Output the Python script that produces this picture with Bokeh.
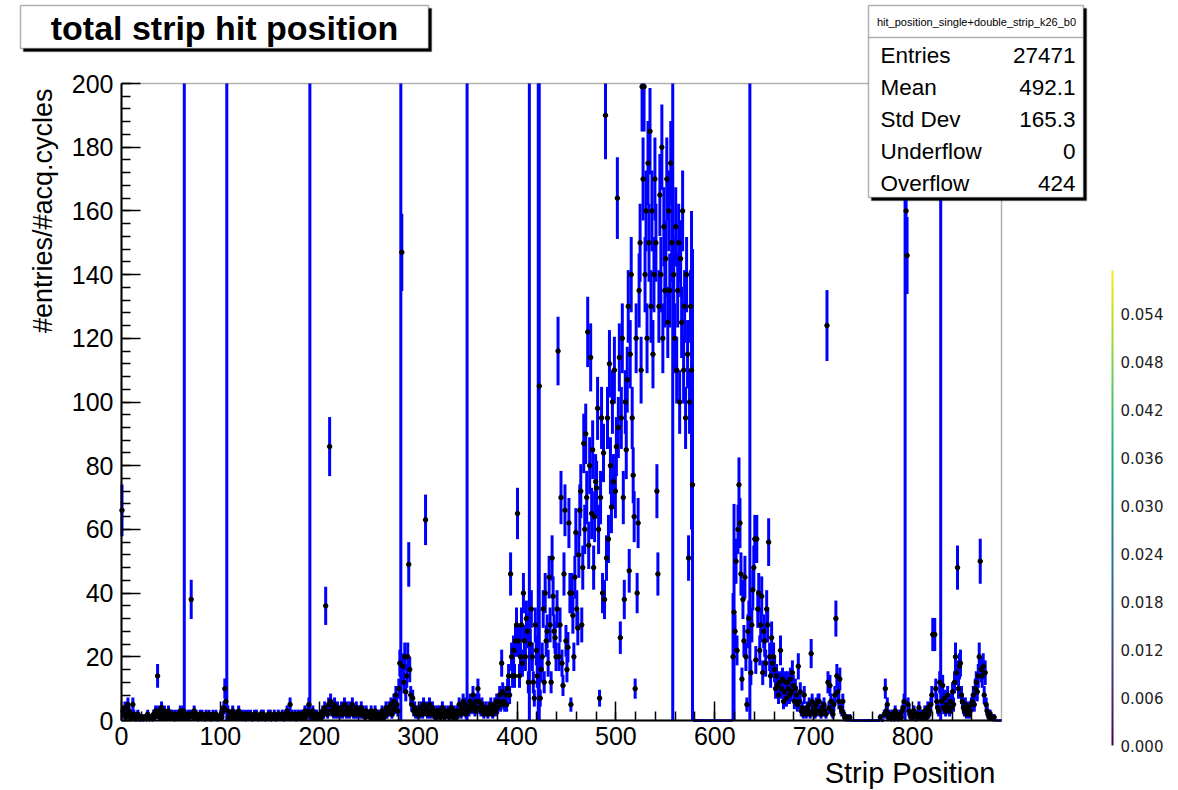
import numpy as np
from bokeh.plotting import figure
from bokeh.models import (Range1d, SingleIntervalTicker, ColumnDataSource, BoxAnnotation, Label,
                          ColorBar, LinearColorMapper, FixedTicker, PrintfTickFormatter)
from bokeh.palettes import Viridis256
from bokeh.embed import file_html
from bokeh.resources import INLINE

# ---------------- data ----------------
strip_values = [
    66, 3, 2, 4, 1, 2, 5, 3, 1, 2,
    1, 5, 2, 1, 0, 1, 2, 1, 0, 1,
    0, 1, 0, 1, 1, 0, 2, 1, 0, 1,
    1, 0, 2, 1, 3, 2, 14, 3, 1, 2,
    4, 1, 2, 3, 1, 2, 1, 3, 1, 2,
    1, 2, 1, 0, 2, 1, 1, 2, 1, 3,
    2, 1, 3, 300, 2, 1, 1, 2, 1, 2,
    38, 2, 1, 3, 1, 2, 1, 0, 1, 2,
    1, 2, 1, 1, 0, 2, 1, 1, 2, 1,
    0, 1, 2, 1, 1, 2, 1, 0, 1, 1,
    2, 1, 3, 4, 10, 6, 300, 3, 1, 2,
    2, 1, 3, 1, 2, 1, 1, 2, 3, 1,
    1, 2, 1, 1, 2, 0, 1, 2, 1, 1,
    2, 1, 0, 1, 2, 1, 2, 1, 0, 1,
    1, 2, 1, 2, 1, 0, 1, 1, 2, 1,
    2, 0, 1, 1, 2, 1, 0, 1, 2, 1,
    1, 1, 2, 1, 0, 2, 1, 3, 1, 2,
    5, 1, 2, 1, 1, 2, 0, 1, 2, 1,
    1, 2, 1, 1, 2, 3, 1, 2, 3, 5,
    300, 2, 1, 3, 1, 2, 1, 2, 1, 1,
    1, 2, 1, 3, 2, 4, 36, 3, 2, 5,
    86, 6, 3, 4, 2, 5, 3, 2, 4, 3,
    2, 3, 4, 2, 3, 5, 3, 2, 4, 3,
    2, 4, 3, 5, 2, 3, 2, 4, 2, 3,
    3, 2, 4, 2, 3, 2, 1, 3, 2, 2,
    2, 1, 3, 2, 1, 2, 3, 1, 2, 1,
    2, 1, 1, 3, 2, 1, 2, 4, 2, 3,
    4, 3, 5, 2, 3, 6, 4, 8, 5, 3,
    10, 18, 300, 147, 17, 12, 20, 9, 14, 20,
    49, 16, 8, 5, 7, 3, 4, 2, 3, 2,
    3, 2, 4, 3, 2, 5, 3, 63, 4, 2,
    3, 5, 2, 3, 4, 2, 3, 1, 2, 3,
    2, 3, 1, 2, 4, 2, 1, 3, 2, 2,
    3, 1, 2, 4, 2, 1, 3, 2, 1, 3,
    2, 5, 3, 2, 4, 6, 3, 5, 2, 300,
    4, 3, 6, 5, 4, 8, 5, 3, 6, 4,
    10, 6, 4, 3, 5, 4, 2, 3, 4, 3,
    2, 4, 3, 5, 3, 2, 4, 5, 3, 6,
    4, 6, 8, 5, 18, 9, 6, 5, 8, 5,
    10, 14, 8, 46, 20, 14, 22, 14, 25, 30,
    65, 25, 14, 20, 30, 18, 40, 25, 20, 32,
    28, 12, 300, 24, 35, 20, 12, 7, 30, 22,
    14, 300, 105, 7, 16, 20, 35, 12, 40, 25,
    28, 18, 45, 30, 12, 51, 39, 28, 26, 20,
    35, 116, 20, 30, 70, 18, 11, 46, 66, 25,
    16, 23, 62, 40, 5, 40, 33, 20, 45, 59,
    35, 29, 52, 66, 72, 30, 48, 87, 60, 90,
    70, 122, 55, 80, 114, 65, 85, 48, 64, 75,
    73, 98, 60, 7, 70, 95, 40, 84, 38, 190,
    51, 95, 57, 112, 80, 67, 100, 75, 110, 72,
    86, 164, 92, 114, 26, 95, 120, 70, 38, 100,
    85, 107, 130, 47, 115, 140, 95, 77, 64, 10,
    120, 40, 62, 135, 150, 110, 199, 170, 199, 140,
    160, 120, 175, 150, 185, 130, 160, 115, 140, 170,
    150, 72, 46, 130, 165, 140, 180, 120, 155, 135,
    145, 170, 125, 160, 135, 175, 150, 300, 140, 120,
    155, 110, 135, 150, 100, 145, 125, 160, 110, 130,
    95, 140, 115, 51, 100, 130, 110, 74, 0, 0,
    0, 0, 0, 0, 0, 0, 0, 0, 0, 0,
    0, 0, 0, 0, 0, 0, 0, 0, 0, 0,
    0, 0, 0, 0, 0, 0, 0, 0, 0, 0,
    0, 0, 0, 0, 0, 0, 0, 0, 20, 34,
    28, 50, 22, 60, 74, 62, 46, 13, 38, 25,
    45, 20, 5, 28, 32, 300, 15, 30, 41, 48,
    57, 19, 57, 35, 40, 22, 30, 39, 15, 28,
    25, 18, 35, 30, 56, 20, 14, 26, 18, 20,
    16, 10, 14, 11, 8, 12, 22, 10, 13, 6,
    9, 12, 7, 12, 10, 8, 13, 9, 15, 11,
    6, 10, 8, 5, 17, 6, 9, 3, 4, 2,
    8, 3, 2, 4, 3, 5, 2, 21, 6, 3,
    4, 2, 5, 3, 6, 6, 3, 2, 4, 3,
    5, 3, 2, 124, 12, 4, 11, 6, 3, 2,
    5, 8, 32, 14, 9, 6, 13, 4, 3, 6,
    2, 1, 0, 1, 0, 0, 1, 0, 0, 0,
    0, 0, 0, 0, 0, 0, 0, 0, 0, 0,
    0, 0, 0, 0, 0, 0, 0, 0, 0, 0,
    0, 0, 0, 0, 0, 0, 0, 1, 0, 0,
    0, 2, 10, 3, 5, 1, 2, 1, 0, 2,
    1, 0, 3, 1, 2, 0, 1, 2, 1, 3,
    4, 6, 300, 160, 146, 5, 3, 2, 1, 2,
    1, 3, 2, 0, 1, 2, 4, 1, 2, 1,
    2, 1, 3, 2, 1, 4, 2, 3, 5, 8,
    27, 27, 27, 10, 6, 4, 3, 12, 300, 6,
    11, 4, 7, 3, 5, 8, 4, 3, 6, 4,
    9, 5, 12, 20, 15, 48, 10, 17, 18, 8,
    6, 4, 3, 5, 2, 3, 4, 2, 3, 5,
    6, 8, 5, 10, 12, 9, 14, 20, 50, 16,
    14, 17, 8, 15, 5, 3, 2, 1, 2, 1,
    1, 0, 1, 0, 0, 0, 0, 0, 0, 0,
]

# bins whose error bar is much larger than sqrt(content) (few raw hits)
wide_err_strips = [63, 106, 190, 282, 349, 412, 421, 422, 557, 576, 577, 618, 619, 635, 792, 828]
wide_err_values = [300, 300, 300, 300, 300, 300, 300, 105, 300, 50, 74, 20, 34, 300, 300, 300]

stats_names = ["Entries", "Mean", "Std Dev", "Underflow", "Overflow"]
stats_values = ["27471", "492.1", "165.3", "0", "424"]
hist_name = "hit_position_single+double_strip_k26_b0"
title_text = "total strip hit position"
x_title = "Strip Position"
y_title = "#entries/#acq.cycles"
x_min, x_max = 0, 890
y_min, y_max = 0, 200
cbar_ticks = [0.000, 0.006, 0.012, 0.018, 0.024, 0.030, 0.036, 0.042, 0.048, 0.054]
cbar_high = 0.0594

# ---------------- layout (page pixels) ----------------
W, H = 1178, 790
FL, FR, FT, FB = 121, 1001, 83, 720      # plotting frame of the histogram

def sx(px):
    return px

def sy(py):
    return H - py

# data ranges stretched so that the drawing area covers the whole canvas
xs = (x_max - x_min) / (FR - FL)
ys = (y_max - y_min) / (FB - FT)
x_range = Range1d(x_min - FL * xs, x_max + (W - FR) * xs)
y_range = Range1d(y_min - (H - FB) * ys, y_max + FT * ys)

# ---------------- derived ----------------
vals = np.array(strip_values, dtype=float)
errs = np.sqrt(vals)
for s, e in zip(wide_err_strips, wide_err_values):
    errs[s] = e
centers = np.arange(len(vals)) + 0.5
lo = np.clip(vals - errs, y_min, y_max)
hi = np.clip(vals + errs, y_min, y_max)
src = ColumnDataSource(dict(x=centers, lo=lo, hi=hi))
inr = vals <= y_max
hsrc = ColumnDataSource(dict(x0=centers[inr] - 0.5, x1=centers[inr] + 0.5, y=vals[inr]))
mk = (vals > 0) & inr
msrc = ColumnDataSource(dict(x=centers[mk], y=vals[mk]))

FONT = "Liberation Sans"
BLUE = "#0000ff"

p = figure(width=W, height=H, x_range=x_range, y_range=y_range,
           output_backend="svg", toolbar_location=None,
           min_border_left=0, min_border_right=0, min_border_top=0, min_border_bottom=0)
p.xgrid.visible = False
p.ygrid.visible = False
p.outline_line_color = None
p.background_fill_color = "white"
p.border_fill_color = "white"

p.segment(x0="x", x1="x", y0="lo", y1="hi", source=src, line_color=BLUE, line_width=3)
p.segment(x0="x0", x1="x1", y0="y", y1="y", source=hsrc, line_color=BLUE, line_width=3)
p.scatter(x="x", y="y", source=msrc, size=4.5, color="black")

# frame box
p.add_layout(BoxAnnotation(left=x_min, right=x_max, bottom=y_min, top=y_max,
                           fill_alpha=0.0, line_color="black", line_width=1.5))

p.xaxis.ticker = SingleIntervalTicker(interval=100, num_minor_ticks=5)
p.yaxis.ticker = SingleIntervalTicker(interval=20, num_minor_ticks=5)
p.xaxis.fixed_location = y_min
p.yaxis.fixed_location = x_min
p.xaxis.bounds = (x_min, x_max)
p.yaxis.bounds = (y_min, y_max)
for ax in (p.xaxis[0], p.yaxis[0]):
    ax.major_tick_in = 19
    ax.major_tick_out = 0
    ax.minor_tick_in = 9
    ax.minor_tick_out = 0
    ax.major_tick_line_width = 1.5
    ax.minor_tick_line_width = 1.5
    ax.axis_line_width = 2
    ax.major_label_text_font = FONT
    ax.major_label_text_font_size = "25px"
    ax.major_label_text_color = "black"
p.xaxis.major_label_standoff = 6
p.yaxis.major_label_standoff = 8

# axis titles
p.add_layout(Label(x=sx(995), y=sy(772), x_units="screen", y_units="screen", text=x_title,
                   text_font=FONT, text_font_size="29px", text_align="right",
                   text_baseline="middle", text_color="black"))
p.add_layout(Label(x=sx(42), y=sy(88), x_units="screen", y_units="screen", text=y_title,
                   angle=np.pi / 2, text_font=FONT, text_font_size="27px", text_align="right",
                   text_baseline="middle", text_color="black"))

def box(l, t, r, b, fill, lw=1.5, line="black"):
    return BoxAnnotation(left=sx(l), right=sx(r), top=sy(t), bottom=sy(b),
                         left_units="screen", right_units="screen",
                         top_units="screen", bottom_units="screen",
                         fill_color=fill, fill_alpha=1.0, line_color=line, line_width=lw)

# title box with shadow
p.add_layout(box(23, 8, 431, 51, "black"))
p.add_layout(box(20, 5, 428, 48, "white"))
p.add_layout(Label(x=sx(224), y=sy(27), x_units="screen", y_units="screen", text=title_text,
                   text_font=FONT, text_font_size="34px", text_font_style="bold",
                   text_align="center", text_baseline="middle", text_color="black"))

# stats box with shadow
p.add_layout(box(871, 8, 1086, 200, "black"))
p.add_layout(box(868, 5, 1083, 197, "white"))
p.add_layout(box(868, 37, 1083, 37, "white"))
p.add_layout(Label(x=sx(976), y=sy(21), x_units="screen", y_units="screen", text=hist_name,
                   text_font=FONT, text_font_size="11px", text_align="center",
                   text_baseline="middle", text_color="black"))
row_y = [55, 87, 119, 151, 183]
for name, val, ry in zip(stats_names, stats_values, row_y):
    p.add_layout(Label(x=sx(880), y=sy(ry), x_units="screen", y_units="screen", text=name,
                       text_font=FONT, text_font_size="22.5px", text_align="left",
                       text_baseline="middle", text_color="black"))
    p.add_layout(Label(x=sx(1075), y=sy(ry), x_units="screen", y_units="screen", text=val,
                       text_font=FONT, text_font_size="22.5px", text_align="right",
                       text_baseline="middle", text_color="black"))

# thin colour bar at the right
cmap = LinearColorMapper(palette=Viridis256, low=0.0, high=cbar_high)
cb = ColorBar(color_mapper=cmap, ticker=FixedTicker(ticks=cbar_ticks),
              formatter=PrintfTickFormatter(format="%.3f"),
              width=2, height=475, location=(sx(1111), sy(745)), padding=0,
              bar_line_color=None, major_tick_line_color=None, minor_tick_line_color=None,
              background_fill_alpha=0.0, border_line_color=None,
              major_label_text_font="DejaVu Sans", major_label_text_font_size="15px",
              major_label_text_color="#222222", label_standoff=7)
p.add_layout(cb)

open("out.html", "w").write(file_html(p, INLINE))
